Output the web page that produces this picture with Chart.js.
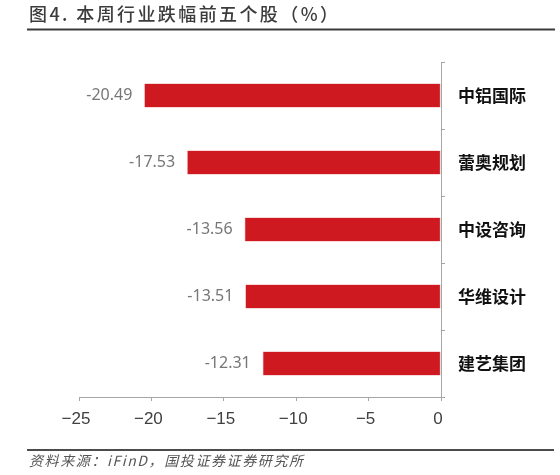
<!DOCTYPE html>
<html>
<head>
<meta charset="utf-8">
<script src="https://cdn.jsdelivr.net/npm/chart.js@4/dist/chart.umd.min.js"></script>
<style>
  html, body { margin: 0; padding: 0; background: #fff; }
  #wrap { position: relative; width: 560px; height: 475px; }
</style>
</head>
<body>
<div id="wrap"><canvas id="chart" width="560" height="475"></canvas></div>
<script>
// chart data
const stocks = ['中铝国际', '蕾奥规划', '中设咨询', '华维设计', '建艺集团'];
const changes = [-20.49, -17.53, -13.56, -13.51, -12.31];
const xTicks = [-25, -20, -15, -10, -5, 0];

const titleText = '图4. 本周行业跌幅前五个股（%）';
const sourceText = '资料来源：iFinD，国投证券证券研究所';

const cjk = '"Noto Sans CJK SC", "Noto Sans", sans-serif';

// title, rules, source note and value labels
const decorPlugin = {
    id: 'decor',
    afterDatasetsDraw(chart) {
        const ctx = chart.ctx;
        const meta = chart.getDatasetMeta(0);
        ctx.save();
        ctx.font = '16px "Noto Sans", sans-serif';
        ctx.fillStyle = '#767676';
        ctx.textAlign = 'right';
        ctx.textBaseline = 'middle';
        meta.data.forEach((bar, i) => {
            ctx.fillText(changes[i].toFixed(2), bar.x - 12, bar.y);
        });
        ctx.restore();
    },
    afterDraw(chart) {
        const ctx = chart.ctx;
        ctx.save();
        // title
        ctx.font = '500 18px ' + cjk;
        ctx.letterSpacing = '2.4px';
        ctx.fillStyle = '#3c3c3c';
        ctx.textAlign = 'left';
        ctx.textBaseline = 'alphabetic';
        ctx.fillText(titleText, 29, 21);
        // top rule
        ctx.strokeStyle = '#3a3a3a';
        ctx.lineWidth = 2;
        ctx.beginPath();
        ctx.moveTo(27, 29.5);
        ctx.lineTo(555, 29.5);
        ctx.stroke();
        // bottom rule
        ctx.strokeStyle = '#111111';
        ctx.lineWidth = 1.5;
        ctx.beginPath();
        ctx.moveTo(27, 450);
        ctx.lineTo(554, 450);
        ctx.stroke();
        // source note
        ctx.font = 'italic 14px ' + cjk;
        ctx.letterSpacing = '1.6px';
        ctx.fillStyle = '#555555';
        ctx.fillText(sourceText, 29, 466);
        ctx.restore();
    }
};

new Chart(document.getElementById('chart'), {
    type: 'bar',
    data: {
        labels: stocks,
        datasets: [{
            data: changes,
            backgroundColor: '#cf1920',
            borderColor: '#e06a6e',
            borderWidth: 0.6,
            borderSkipped: false,
            barPercentage: 0.72,
            categoryPercentage: 0.5
        }]
    },
    options: {
        indexAxis: 'y',
        responsive: false,
        animation: false,
        devicePixelRatio: 1,
        layout: { padding: { left: 79, top: 62, right: 0, bottom: 38 } },
        plugins: {
            legend: { display: false },
            tooltip: { enabled: false }
        },
        scales: {
            x: {
                position: 'bottom',
                min: -25,
                max: 0,
                afterBuildTicks(scale) {
                    scale.ticks = xTicks.map(v => ({ value: v }));
                },
                afterFit(scale) { scale.height = 40; },
                grid: {
                    drawOnChartArea: false,
                    drawTicks: true,
                    tickLength: 4,
                    color: '#a6a6a6'
                },
                border: { color: '#a6a6a6', width: 1 },
                ticks: {
                    padding: 8,
                    maxRotation: 0,
                    labelOffset: -3,
                    color: '#404040',
                    font: { family: '"Liberation Sans", Arial, sans-serif', size: 17 },
                    callback: v => v < 0 ? '\u2212' + Math.abs(v) : String(v)
                }
            },
            y: {
                position: 'right',
                afterFit(scale) { scale.width = 119; },
                grid: {
                    drawOnChartArea: false,
                    drawTicks: true,
                    tickLength: 4,
                    color: '#a6a6a6'
                },
                border: { color: '#a6a6a6', width: 1 },
                ticks: {
                    padding: 13,
                    color: '#111111',
                    font: { family: cjk, size: 17, weight: 'bold' }
                }
            }
        }
    },
    plugins: [decorPlugin]
});
</script>
</body>
</html>
